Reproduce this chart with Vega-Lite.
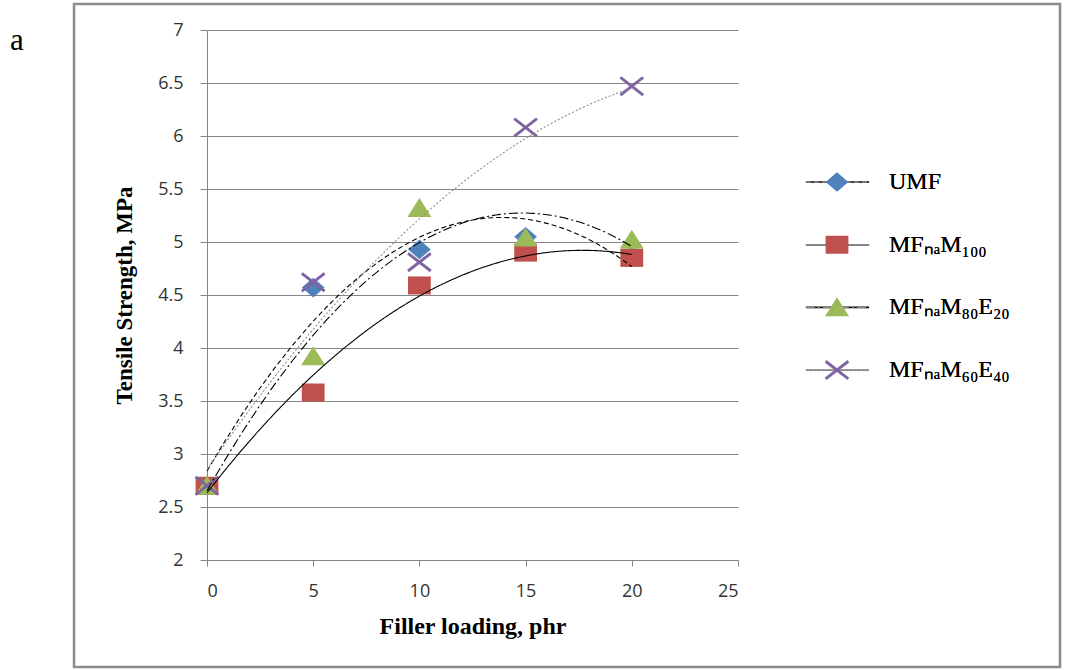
{
  "$schema": "https://vega.github.io/schema/vega-lite/v6.json",
  "width": 531,
  "height": 530,
  "autosize": {"type": "none"},
  "padding": {"left": 207, "top": 30, "right": 327, "bottom": 110},
  "background": "white",
  "title": {"text": "a", "anchor": "start", "frame": "group", "dx": -197, "dy": 58, "font": "Liberation Serif", "fontSize": 31, "fontWeight": "normal", "color": "black"},
  "config": {
    "view": {"stroke": null},
    "axisX": {
      "grid": false, "domainColor": "#868686", "tickColor": "#868686", "tickSize": 6,
      "labelFont": "Open Sans", "labelFontSize": 18, "labelColor": "#333333", "labelPadding": 16,
      "titleFont": "Liberation Serif", "titleFontSize": 24, "titleFontWeight": "bold", "titleColor": "black", "titlePadding": 14
    },
    "axisY": {
      "grid": true, "gridColor": "#868686", "gridWidth": 1,
      "domainColor": "#868686", "tickColor": "#868686", "tickSize": 7,
      "labelFont": "Open Sans", "labelFontSize": 18, "labelColor": "#333333", "labelPadding": 17,
      "titleFont": "Liberation Serif", "titleFontSize": 23, "titleFontWeight": "bold", "titleColor": "black", "titlePadding": 21
    }
  },
  "data": {
    "values": [
      {"series": "UMF", "x": 0, "y": 2.70},
      {"series": "UMF", "x": 5, "y": 4.57},
      {"series": "UMF", "x": 10, "y": 4.93},
      {"series": "UMF", "x": 15, "y": 5.05},
      {"series": "UMF", "x": 20, "y": 4.87},
      {"series": "MFₙₐM₁₀₀", "x": 0, "y": 2.70},
      {"series": "MFₙₐM₁₀₀", "x": 5, "y": 3.58},
      {"series": "MFₙₐM₁₀₀", "x": 10, "y": 4.59},
      {"series": "MFₙₐM₁₀₀", "x": 15, "y": 4.90},
      {"series": "MFₙₐM₁₀₀", "x": 20, "y": 4.85},
      {"series": "MFₙₐM₈₀E₂₀", "x": 0, "y": 2.70},
      {"series": "MFₙₐM₈₀E₂₀", "x": 5, "y": 3.92},
      {"series": "MFₙₐM₈₀E₂₀", "x": 10, "y": 5.32},
      {"series": "MFₙₐM₈₀E₂₀", "x": 15, "y": 5.04},
      {"series": "MFₙₐM₈₀E₂₀", "x": 20, "y": 5.02},
      {"series": "MFₙₐM₆₀E₄₀", "x": 0, "y": 2.70},
      {"series": "MFₙₐM₆₀E₄₀", "x": 5, "y": 4.62},
      {"series": "MFₙₐM₆₀E₄₀", "x": 10, "y": 4.81},
      {"series": "MFₙₐM₆₀E₄₀", "x": 15, "y": 6.08},
      {"series": "MFₙₐM₆₀E₄₀", "x": 20, "y": 6.47}
    ]
  },
  "layer": [
    {
      "data": {"values": [{"part": "frame"}]},
      "mark": {"type": "rect", "filled": false, "stroke": "#8c8c8c", "strokeWidth": 2.5, "clip": false},
      "encoding": {
        "x": {"datum": -6.26, "type": "quantitative"},
        "x2": {"datum": 40.16},
        "y": {"datum": 7.245, "type": "quantitative"},
        "y2": {"datum": 0.99}
      }
    },
    {
      "mark": {"type": "point", "filled": true, "size": 4000, "opacity": 1, "strokeWidth": 0},
      "encoding": {
        "x": {
          "field": "x", "type": "quantitative",
          "scale": {"domain": [0, 25], "nice": false, "zero": false},
          "axis": {"values": [0, 5, 10, 15, 20, 25], "format": "d", "title": "Filler loading, phr"}
        },
        "y": {
          "field": "y", "type": "quantitative",
          "scale": {"domain": [2, 7], "nice": false, "zero": false},
          "axis": {"values": [2, 2.5, 3, 3.5, 4, 4.5, 5, 5.5, 6, 6.5, 7], "format": "~g", "title": "Tensile Strength, MPa"}
        },
        "color": {
          "field": "series", "type": "nominal",
          "scale": {"domain": ["UMF", "MFₙₐM₁₀₀", "MFₙₐM₈₀E₂₀", "MFₙₐM₆₀E₄₀"], "range": ["#4F81BD", "#C0504D", "#9BBB59", "#8064A2"]},
          "legend": {"orient": "none", "legendX": 598, "legendY": 130, "title": null, "symbolSize": 4000, "symbolStrokeWidth": 0, "symbolOpacity": 1, "labelFont": "Liberation Serif", "labelFontSize": 24, "labelExpr": "''", "labelOffset": 19, "clipHeight": 44, "rowPadding": 18.7, "zindex": 2}
        },
        "shape": {
          "field": "series", "type": "nominal",
          "scale": {"domain": ["UMF", "MFₙₐM₁₀₀", "MFₙₐM₈₀E₂₀", "MFₙₐM₆₀E₄₀"], "range": [
            "M0,-0.31L0.36,0L0,0.31L-0.36,0Z",
            "M-0.36,-0.285L0.36,-0.285L0.36,0.285L-0.36,0.285Z",
            "M0,-0.32L0.38,0.28L-0.38,0.28Z",
            "M-0.332,-0.316L0.388,0.244L0.332,0.316L-0.388,-0.244ZM-0.388,0.244L0.332,-0.316L0.388,-0.244L-0.332,0.316Z"
          ]},
          "legend": {"orient": "none", "legendX": 598, "legendY": 130, "title": null, "symbolSize": 4000, "symbolStrokeWidth": 0, "symbolOpacity": 1, "labelFont": "Liberation Serif", "labelFontSize": 24, "labelExpr": "''", "labelOffset": 19, "clipHeight": 44, "rowPadding": 18.7, "zindex": 2}
        }
      }
    },
    {
      "transform": [
        {"regression": "y", "on": "x", "groupby": ["series"], "method": "poly", "order": 2, "extent": [0, 20]}
      ],
      "mark": {"type": "line", "strokeWidth": 1.1},
      "encoding": {
        "x": {"field": "x", "type": "quantitative"},
        "y": {"field": "y", "type": "quantitative"},
        "stroke": {
          "field": "series", "type": "nominal",
          "sort": ["UMF", "MFₙₐM₁₀₀", "MFₙₐM₈₀E₂₀", "MFₙₐM₆₀E₄₀"],
          "scale": {"range": ["#000000", "#000000", "#000000", "#8c8c8c"]},
          "legend": {"orient": "none", "legendX": 598, "legendY": 130, "title": null, "symbolType": "stroke", "symbolSize": 4000, "symbolStrokeWidth": 1.6, "labelFont": "Liberation Serif", "labelFontSize": 24, "labelColor": "black", "labelOffset": 19, "clipHeight": 44, "rowPadding": 18.7, "zindex": 1}
        },
        "strokeDash": {
          "field": "series", "type": "nominal",
          "sort": ["UMF", "MFₙₐM₁₀₀", "MFₙₐM₈₀E₂₀", "MFₙₐM₆₀E₄₀"],
          "scale": {"range": [[5, 3], [1, 0], [9, 3, 2, 3], [2, 2]]},
          "legend": {"orient": "none", "legendX": 598, "legendY": 130, "title": null, "symbolType": "stroke", "symbolSize": 4000, "symbolStrokeWidth": 1.6, "labelFont": "Liberation Serif", "labelFontSize": 24, "labelColor": "black", "labelOffset": 19, "clipHeight": 44, "rowPadding": 18.7, "zindex": 1}
        }
      }
    }
  ]
}
